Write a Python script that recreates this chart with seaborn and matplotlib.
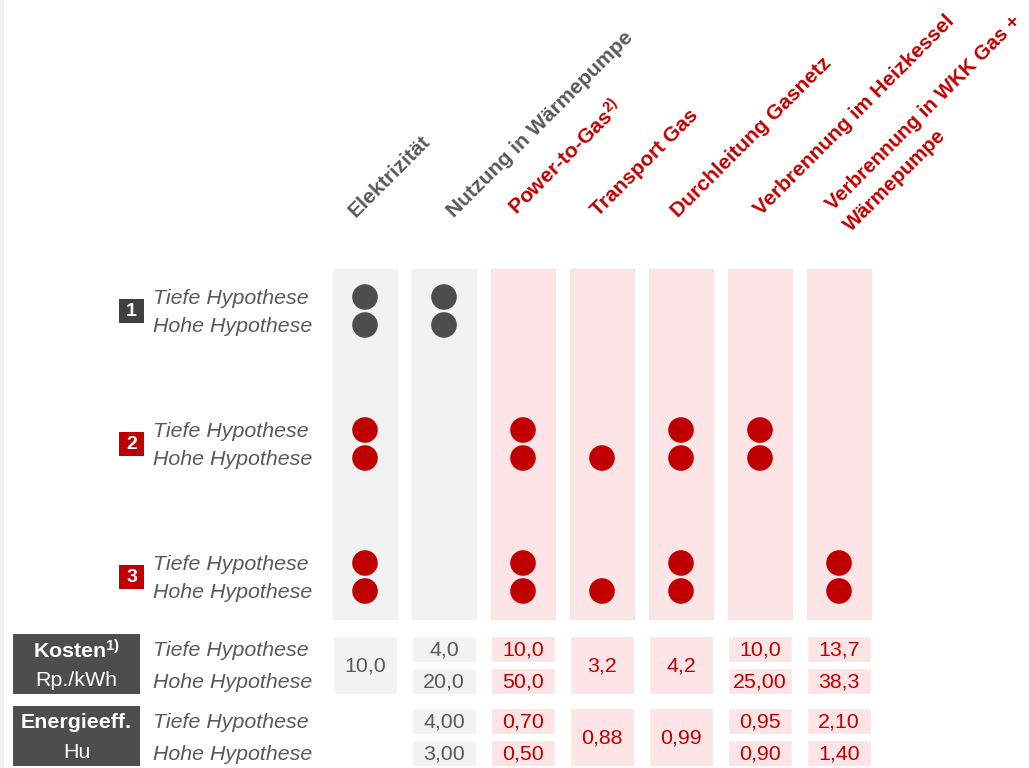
import matplotlib
matplotlib.use("Agg")
import matplotlib.pyplot as plt
import pandas as pd
import seaborn as sns
from matplotlib.patches import Rectangle

# --- Daten -----------------------------------------------------------------
schritte = ["Elektrizität", "Nutzung in Wärmepumpe", "Power-to-Gas", "Transport Gas",
            "Durchleitung Gasnetz", "Verbrennung im Heizkessel",
            "Verbrennung in WKK Gas + Wärmepumpe"]
kopf_zeilen = [["Elektrizität"], ["Nutzung in Wärmepumpe"],
               [r"Power-to-Gas$^{\mathregular{2)}}$"], ["Transport Gas"],
               ["Durchleitung Gasnetz"], ["Verbrennung im Heizkessel"],
               ["Verbrennung in WKK Gas +", "Wärmepumpe"]]
schritt_art = ["strom", "strom", "gas", "gas", "gas", "gas", "gas"]

pfade = ["1", "2", "3"]
hypothesen = ["Tiefe Hypothese", "Hohe Hypothese"]
# Belegung je Pfad und Schritt: T = Tiefe Hypothese, H = Hohe Hypothese
pfad_1 = ["TH", "TH", "", "", "", "", ""]
pfad_2 = ["TH", "", "TH", "H", "TH", "TH", ""]
pfad_3 = ["TH", "", "TH", "H", "TH", "", "TH"]

kosten_tief = ["10,0", "4,0", "10,0", "3,2", "4,2", "10,0", "13,7"]
kosten_hoch = ["10,0", "20,0", "50,0", "3,2", "4,2", "25,00", "38,3"]
eff_tief = ["", "4,00", "0,70", "0,88", "0,99", "0,95", "2,10"]
eff_hoch = ["", "3,00", "0,50", "0,88", "0,99", "0,90", "1,40"]

# --- Stil ------------------------------------------------------------------
ROT = "#C00000"
TEXTGRAU = "#595959"
DUNKELGRAU = "#4D4D4D"
HELLGRAU = "#F2F2F2"
ROSA = "#FDE4E6"
FS = 15.4
FS_KOPF = [15.2, 15.2, 15.2, 15.2, 15.2, 15.2, 14.8]

sns.set_theme(style="white")
plt.rcParams["font.family"] = ["Liberation Sans", "DejaVu Sans"]
plt.rcParams["mathtext.fontset"] = "custom"
plt.rcParams["mathtext.rm"] = "Liberation Sans"
plt.rcParams["mathtext.bf"] = "Liberation Sans:bold"
plt.rcParams["mathtext.it"] = "Liberation Sans:italic"

W, H = 1029, 768
X0, DX = 365, 79          # Mitte der ersten Spalte, Spaltenabstand (px)
ROW0, GRUPPE_DY, HYP_DY = 297, 133, 28
SPALTE_B = 64 / DX


def px(x):
    """Pixel-x in Spalteneinheiten umrechnen."""
    return (x - X0) / DX


fig = plt.figure(figsize=(W / 100, H / 100), dpi=100)
fig.patch.set_facecolor("white")
ax = fig.add_axes([0, 0, 1, 1])

# Punkte aufbauen
zeilen = []
for g, belegung in enumerate([pfad_1, pfad_2, pfad_3]):
    for i, code in enumerate(belegung):
        for h, key in enumerate("TH"):
            if key in code:
                zeilen.append({"pfad": pfade[g], "schritt": i,
                               "hypothese": hypothesen[h],
                               "y": ROW0 + GRUPPE_DY * g + HYP_DY * h})
punkte = pd.DataFrame(zeilen)

# Spaltenhintergrund
farben_bg = [HELLGRAU if a == "strom" else ROSA for a in schritt_art]
kanten_bg = [HELLGRAU if a == "strom" else "#F3E6E7" for a in schritt_art]
ax.bar(range(len(schritte)), 350, bottom=269, width=SPALTE_B,
       color=farben_bg, edgecolor=kanten_bg, linewidth=1, zorder=1)

sns.scatterplot(data=punkte, x="schritt", y="y", hue="pfad",
                palette={"1": DUNKELGRAU, "2": ROT, "3": ROT},
                s=340, linewidth=0, legend=False, ax=ax, zorder=3)

# Spaltenköpfe (45°)
kopf_anker = [(356, 218), (454, 218), (517, 216), (598, 217), (678, 218),
              (761, 216), (833, 211)]
for i, zeilen_txt in enumerate(kopf_zeilen):
    farbe = TEXTGRAU if schritt_art[i] == "strom" else ROT
    ax0, ay0 = kopf_anker[i]
    for k, t in enumerate(zeilen_txt):
        ax.text(px(ax0 + 18 * k), ay0 + 21 * k, t, rotation=45,
                rotation_mode="anchor", ha="left", va="baseline",
                fontsize=FS_KOPF[i], fontweight="bold", color=farbe)

# Pfadnummern und Hypothesen-Beschriftung
for g, p in enumerate(pfade):
    y_mitte = ROW0 + GRUPPE_DY * g + HYP_DY / 2
    farbe = "#404040" if g == 0 else ROT
    ax.add_patch(Rectangle((px(119), y_mitte - 12), 25 / DX, 24,
                           facecolor=farbe, edgecolor="none", zorder=2))
    ax.text(px(131.5), y_mitte + 0.5, p, ha="center", va="center",
            fontsize=14, fontweight="bold", color="white", zorder=3)
    for h, hyp in enumerate(hypothesen):
        ax.text(px(153), ROW0 + 1.5 + GRUPPE_DY * g + HYP_DY * h, hyp,
                ha="left", va="center", fontsize=FS, style="italic",
                color=TEXTGRAU)

# Untere Tabelle: Kosten und Energieeffizienz
tabellen = [
    (kosten_tief, kosten_hoch, 636, r"Kosten$^{\mathbf{1)}}$", "Rp./kWh", 634),
    (eff_tief, eff_hoch, 708, "Energieeff.", "Hu", 706),
]
for tief, hoch, y0, titel, einheit, kasten_y in tabellen:
    ax.add_patch(Rectangle((px(13), kasten_y), 127 / DX, 60,
                           facecolor=DUNKELGRAU, edgecolor="none"))
    ax.text(px(76.5), kasten_y + 17, titel, ha="center", va="center",
            fontsize=FS, fontweight="bold", color="white")
    ax.text(px(76.5), kasten_y + 46, einheit, ha="center", va="center",
            fontsize=FS, color="white")
    for h, hyp in enumerate(hypothesen):
        ax.text(px(153), y0 + 15 + 32 * h, hyp, ha="left", va="center",
                fontsize=FS, style="italic", color=TEXTGRAU)
    for i in range(len(schritte)):
        if not tief[i]:
            continue
        fuell = HELLGRAU if schritt_art[i] == "strom" else ROSA
        tfarbe = TEXTGRAU if schritt_art[i] == "strom" else ROT
        if tief[i] == hoch[i]:
            ax.bar(i, 58, bottom=y0, width=0.8, color=fuell, zorder=1)
            ax.text(i, y0 + 30, tief[i], ha="center", va="center",
                    fontsize=FS, color=tfarbe)
        else:
            for h, wert in enumerate([tief[i], hoch[i]]):
                ax.bar(i, 26, bottom=y0 + 32 * h, width=0.8, color=fuell,
                       zorder=1)
                ax.text(i, y0 + 14 + 32 * h, wert, ha="center", va="center",
                        fontsize=FS, color=tfarbe)

# schmaler Rand links
ax.add_patch(Rectangle((px(0), 0), 4 / DX, H, facecolor=HELLGRAU,
                       edgecolor="none"))

ax.set_xlim(px(0), px(W))
ax.set_ylim(H, 0)
ax.axis("off")

fig.savefig("out.png", dpi=100, facecolor="white")
